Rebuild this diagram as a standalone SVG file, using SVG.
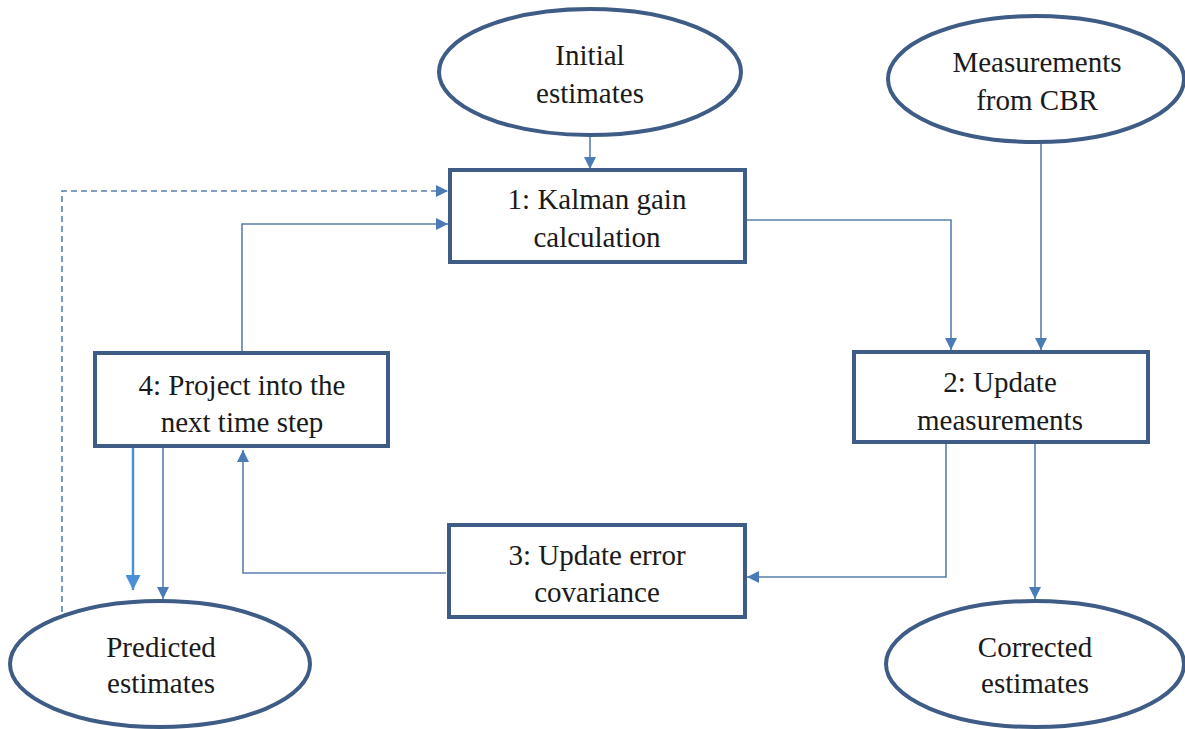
<svg xmlns="http://www.w3.org/2000/svg" width="1185" height="729" viewBox="0 0 1185 729">
<style>
.n{fill:#fff;stroke:#3e5c85;stroke-width:4}
.c{fill:none;stroke:#5a80ad;stroke-width:1.6}
.d{fill:none;stroke:#5a80ad;stroke-width:1.6;stroke-dasharray:6,4}
.b{fill:none;stroke:#4a90d9;stroke-width:2.5}
text{font-family:'Liberation Serif','Times New Roman',serif;font-size:29px;fill:#1a1a1a;text-anchor:middle}
</style>
<defs>
<marker id="a" viewBox="0 0 10 10" refX="10" refY="5" markerWidth="13" markerHeight="12" markerUnits="userSpaceOnUse" orient="auto"><path d="M0,0L10,5L0,10z" fill="#4a7bb7"/></marker>
<marker id="a2" viewBox="0 0 10 10" refX="10" refY="5" markerWidth="16" markerHeight="15" markerUnits="userSpaceOnUse" orient="auto"><path d="M0,0L10,5L0,10z" fill="#4a90d9"/></marker>
</defs>
<rect width="1185" height="729" fill="#fff"/>
<g id="connectors">
<path class="c" d="M590,136V169" marker-end="url(#a)"/>
<path class="d" d="M62,612V191H448" marker-end="url(#a)"/>
<path class="c" d="M242,352V224H448" marker-end="url(#a)"/>
<path class="c" d="M747,220H951V350" marker-end="url(#a)"/>
<path class="c" d="M1041,142V350" marker-end="url(#a)"/>
<path class="c" d="M946,444V577H747" marker-end="url(#a)"/>
<path class="c" d="M1035,444V599" marker-end="url(#a)"/>
<path class="c" d="M446,573H243V450" marker-end="url(#a)"/>
<path class="c" d="M163,448V599" marker-end="url(#a)"/>
<path class="b" d="M133,437V590" marker-end="url(#a2)"/>
</g>
<g id="initial"><ellipse class="n" cx="590" cy="72" rx="151" ry="63"/><text x="590" y="65">Initial</text><text x="590" y="103">estimates</text></g>
<g id="measurements"><ellipse class="n" cx="1036" cy="79" rx="148" ry="63"/><text x="1037" y="72">Measurements</text><text x="1037" y="110">from CBR</text></g>
<g id="kalman"><rect class="n" x="450" y="170" width="295" height="92"/><text x="597" y="209">1: Kalman gain</text><text x="597" y="247">calculation</text></g>
<g id="update-meas"><rect class="n" x="854" y="352" width="294" height="90"/><text x="1000" y="392">2: Update</text><text x="1000" y="430">measurements</text></g>
<g id="update-cov"><rect class="n" x="449" y="525" width="296" height="92"/><text x="597" y="565">3: Update error</text><text x="597" y="602">covariance</text></g>
<g id="project"><rect class="n" x="95" y="353" width="293" height="93"/><text x="242" y="395">4: Project into the</text><text x="242" y="432">next time step</text></g>
<g id="predicted"><ellipse class="n" cx="160" cy="664" rx="150" ry="63"/><text x="161" y="657">Predicted</text><text x="161" y="693">estimates</text></g>
<g id="corrected"><ellipse class="n" cx="1035" cy="664" rx="149" ry="63"/><text x="1035" y="657">Corrected</text><text x="1035" y="693">estimates</text></g>
</svg>
